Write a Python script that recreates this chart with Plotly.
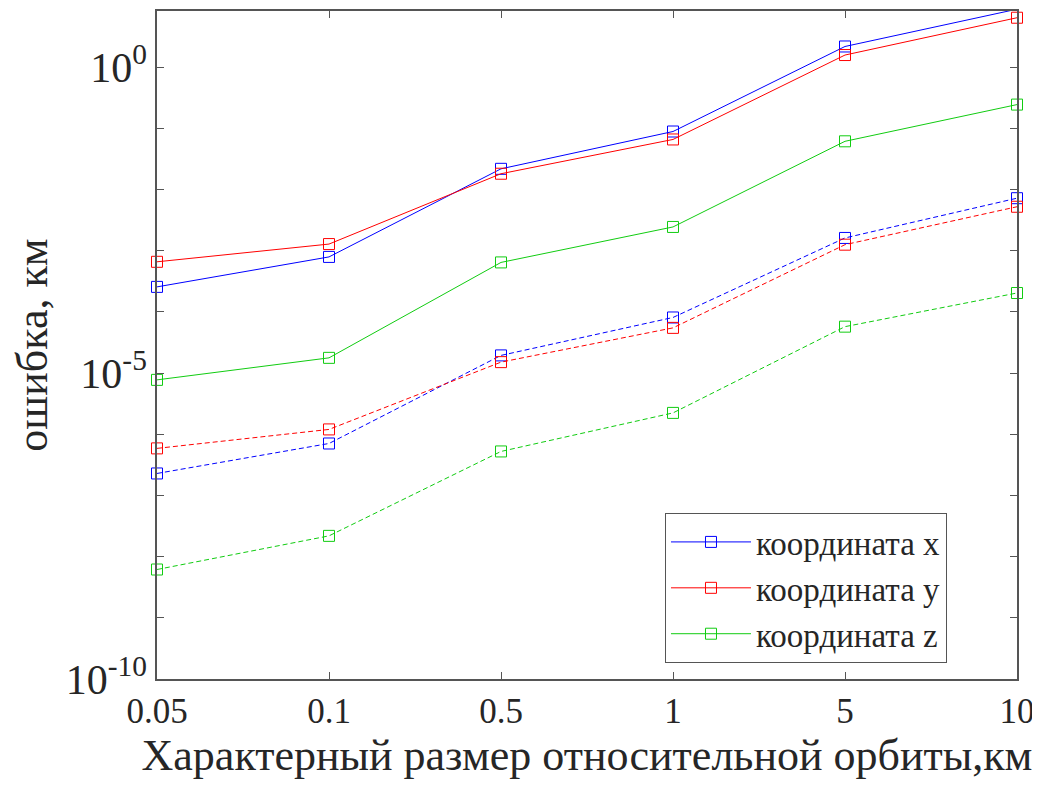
import plotly.graph_objects as go

categories = ["0.05", "0.1", "0.5", "1", "5", "10"]

# log10 of error values
solid_x = [10**v for v in [-3.59, -3.10, -1.66, -1.05, 0.34, 0.95]]
solid_y = [10**v for v in [-3.18, -2.89, -1.74, -1.18, 0.20, 0.81]]
solid_z = [10**v for v in [-5.11, -4.75, -3.19, -2.61, -1.21, -0.61]]
dash_x = [10**v for v in [-6.64, -6.15, -4.71, -4.09, -2.79, -2.14]]
dash_y = [10**v for v in [-6.23, -5.92, -4.82, -4.26, -2.90, -2.28]]
dash_z = [10**v for v in [-8.21, -7.66, -6.28, -5.65, -4.24, -3.69]]

series = [
    ("координата x", solid_x, "#0000ff", "solid", True),
    ("координата y", solid_y, "#ff0000", "solid", True),
    ("координата z", solid_z, "#11cc11", "solid", True),
    ("координата x", dash_x, "#0000ff", "dash", False),
    ("координата y", dash_y, "#ff0000", "dash", False),
    ("координата z", dash_z, "#11cc11", "dash", False),
]

y_major_vals = [1e-10, 1e-5, 1e0]
y_major_text = ["10<sup>-10</sup>", "10<sup>-5</sup>", "10<sup>0</sup>"]
y_minor_vals = [10**k for k in range(-10, 1)]

fig = go.Figure()
for name, vals, color, dash, show in series:
    fig.add_trace(go.Scatter(
        x=categories, y=vals, name=name, mode="lines+markers",
        line=dict(color=color, width=1, dash="5px,3px" if dash == "dash" else "solid"),
        marker=dict(symbol="square-open", size=11, color=color, line=dict(width=1, color=color)),
        showlegend=show, cliponaxis=False,
    ))

font_family = "Liberation Serif, Times New Roman, serif"
fig.update_layout(
    width=1032, height=783,
    margin=dict(l=149, r=23, t=3, b=112),
    paper_bgcolor="white", plot_bgcolor="white",
    font=dict(family=font_family, size=34, color="#262626"),
    showlegend=True,
    legend=dict(
        x=0.9186, y=0.024, xanchor="right", yanchor="bottom",
        bgcolor="white", bordercolor="#555555", borderwidth=1,
        font=dict(family=font_family, size=33, color="#262626"),
        itemwidth=80, tracegroupgap=0,
    ),
    xaxis=dict(
        type="category", range=[0, 5], automargin=False,
        showgrid=False, zeroline=False,
        showline=True, linecolor="#555555", linewidth=1.5, mirror="ticks",
        ticks="inside", ticklen=7, tickcolor="#555555",
        tickfont=dict(size=35),
        title=dict(text="Характерный размер относительной орбиты,км", font=dict(size=44), standoff=8),
    ),
    yaxis=dict(
        type="log", range=[-10, 0.92], automargin=False,
        tickvals=y_major_vals, ticktext=y_major_text,
        minor=dict(tickvals=y_minor_vals, ticks="inside", ticklen=7, tickcolor="#555555"),
        showgrid=False, zeroline=False,
        showline=True, linecolor="#555555", linewidth=1.5, mirror="ticks",
        ticks="inside", ticklen=7, tickcolor="#555555",
        tickfont=dict(size=42),
        title=dict(text="ошибка, км", font=dict(size=44), standoff=14),
    ),
)

fig.write_html("out.html")
